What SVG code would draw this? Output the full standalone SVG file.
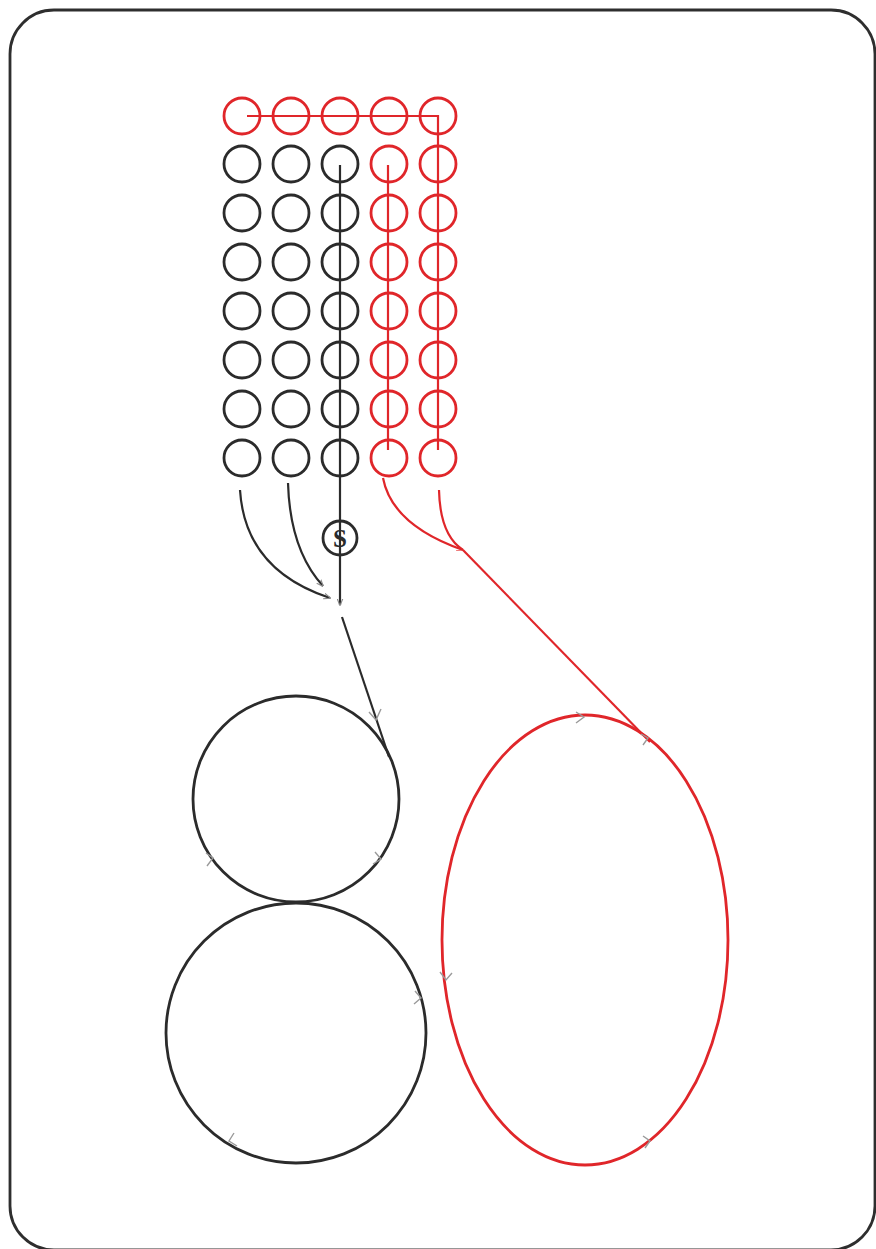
<svg xmlns="http://www.w3.org/2000/svg" width="876" height="1249" viewBox="0 0 876 1249">
<defs>
<style>
.bk{fill:none;stroke:#2b2b2b;stroke-width:2.8}
.rd{fill:none;stroke:#e0262a;stroke-width:2.8}
.bkl{fill:none;stroke:#2b2b2b;stroke-width:2.2}
.rdl{fill:none;stroke:#e0262a;stroke-width:2.2}
.tick{fill:none;stroke:#9a9a9a;stroke-width:1.4}
</style>
<marker id="ab" viewBox="0 0 10 10" refX="9" refY="5" markerWidth="7" markerHeight="7" orient="auto" markerUnits="userSpaceOnUse"><path d="M0,1 L10,5 L0,9" fill="none" stroke="#8a8a8a" stroke-width="1.6"/></marker>
<marker id="ar" viewBox="0 0 10 10" refX="9" refY="5" markerWidth="7" markerHeight="7" orient="auto" markerUnits="userSpaceOnUse"><path d="M0,1 L10,5 L0,9" fill="none" stroke="#e77" stroke-width="1.6"/></marker>
</defs>
<rect width="876" height="1249" fill="#fff"/>
<rect id="frame" x="10" y="10" width="865" height="1240" rx="44" fill="none" stroke="#2e2e2e" stroke-width="2.8"/>

<g id="grid">
<g id="row1" class="rd">
<circle cx="242" cy="116" r="18"/><circle cx="291" cy="116" r="18"/><circle cx="340" cy="116" r="18"/><circle cx="389" cy="116" r="18"/><circle cx="438" cy="116" r="18"/>
</g>
<g id="col1" class="bk">
<circle cx="242" cy="164" r="18"/><circle cx="242" cy="213" r="18"/><circle cx="242" cy="262" r="18"/><circle cx="242" cy="311" r="18"/><circle cx="242" cy="360" r="18"/><circle cx="242" cy="409" r="18"/><circle cx="242" cy="458" r="18"/>
</g>
<g id="col2" class="bk">
<circle cx="291" cy="164" r="18"/><circle cx="291" cy="213" r="18"/><circle cx="291" cy="262" r="18"/><circle cx="291" cy="311" r="18"/><circle cx="291" cy="360" r="18"/><circle cx="291" cy="409" r="18"/><circle cx="291" cy="458" r="18"/>
</g>
<g id="col3" class="bk">
<circle cx="340" cy="164" r="18"/><circle cx="340" cy="213" r="18"/><circle cx="340" cy="262" r="18"/><circle cx="340" cy="311" r="18"/><circle cx="340" cy="360" r="18"/><circle cx="340" cy="409" r="18"/><circle cx="340" cy="458" r="18"/>
</g>
<g id="col4" class="rd">
<circle cx="389" cy="164" r="18"/><circle cx="389" cy="213" r="18"/><circle cx="389" cy="262" r="18"/><circle cx="389" cy="311" r="18"/><circle cx="389" cy="360" r="18"/><circle cx="389" cy="409" r="18"/><circle cx="389" cy="458" r="18"/>
</g>
<g id="col5" class="rd">
<circle cx="438" cy="164" r="18"/><circle cx="438" cy="213" r="18"/><circle cx="438" cy="262" r="18"/><circle cx="438" cy="311" r="18"/><circle cx="438" cy="360" r="18"/><circle cx="438" cy="409" r="18"/><circle cx="438" cy="458" r="18"/>
</g>
</g>

<g id="connectors">
<path class="rdl" d="M247,116 H438 V450"/>
<path class="rdl" d="M388,165 V450"/>
<path class="bkl" d="M340,165 V605" marker-end="url(#ab)"/>
<path class="bkl" d="M240,490 Q245,570 330,598" marker-end="url(#ab)"/>
<path class="bkl" d="M288,483 Q290,550 323,586" marker-end="url(#ab)"/>
<path class="bkl" d="M342,617 L389,757"/>
<path class="tick" d="M369,712 L376,720 L381,709"/>
<path class="rdl" d="M383,478 Q392,525 463,550" marker-end="url(#ar)"/>
<path class="rdl" d="M439,490 Q440,535 463,550"/>
<path class="rdl" d="M463,550 L650,742"/>
</g>

<g id="valve">
<circle cx="340" cy="538" r="17" fill="none" stroke="#2b2b2b" stroke-width="2.8"/>
<text x="340" y="547" font-family="Liberation Serif, Times New Roman, serif" font-size="25" font-weight="bold" text-anchor="middle" fill="#2b2b2b">S</text>
</g>

<g id="circle-upper">
<circle class="bk" cx="296" cy="799" r="103"/>
<path class="tick" d="M206,853 L213,858 L207,866"/>
<path class="tick" d="M375,852 L381,859 L373,864"/>
</g>
<g id="circle-lower">
<circle class="bk" cx="296" cy="1033" r="130"/>
<path class="tick" d="M415,991 L421,998 L414,1004"/>
<path class="tick" d="M234,1133 L229,1141 L237,1146"/>
</g>
<g id="ellipse-red">
<ellipse class="rd" cx="585" cy="940" rx="143" ry="225"/>
<path class="tick" d="M576,712 L584,717 L576,723"/>
<path class="tick" d="M440,972 L446,980 L452,973"/>
<path class="tick" d="M643,1136 L650,1141 L645,1148"/>
<path class="tick" d="M641,734 L648,738 L643,745"/>
</g>
</svg>
